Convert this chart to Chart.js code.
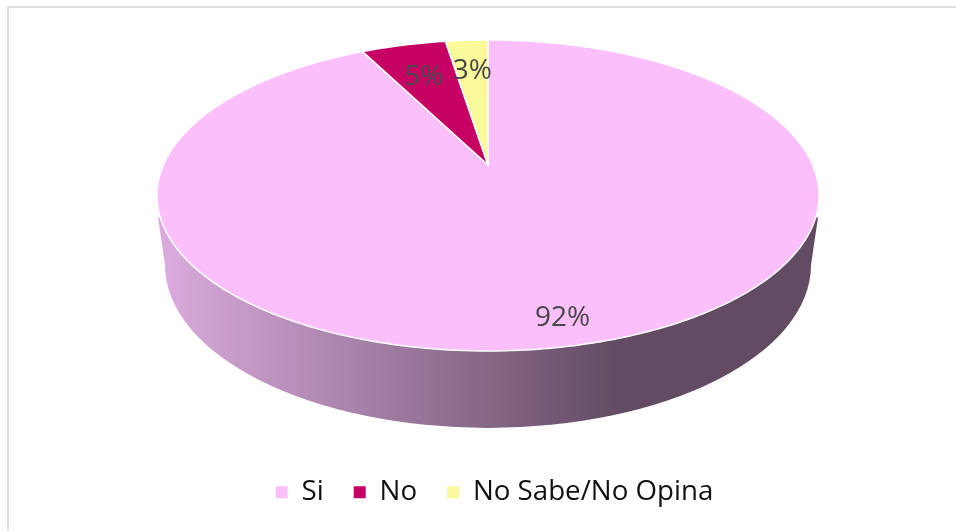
<!DOCTYPE html>
<html>
<head>
<meta charset="utf-8">
<script src="https://cdn.jsdelivr.net/npm/chart.js@4"></script>
<style>
html,body{margin:0;padding:0;background:#fff;width:956px;height:531px;overflow:hidden}
#wrap{position:relative;width:956px;height:531px}
#frame{position:absolute;left:7px;top:6px;right:0;bottom:0;border-left:2px solid #dfdfdf;border-top:2px solid #dfdfdf}
canvas{position:absolute;left:0;top:0}
</style>
</head>
<body>
<div id="wrap"><div id="frame"></div><canvas id="c" width="956" height="531"></canvas></div>
<script>
const categories = ["Si", "No", "No Sabe/No Opina"];
const values = [92.5, 5, 2.5];
const valueLabels = ["92%", "5%", "3%"];
const colors = ["#FBBFFC", "#C70063", "#FBFA9A"];

const FONT = '"Open Sans", "Noto Sans", sans-serif';
const view = {
  apexX: 488, apexY: 165,      // where the pie centre lands after projection
  scaleX: 0.9807, scaleY: 0.4517, persp: -0.196,
  labelRadius: [0.875, 0.70, 0.70], labelShift: [[-5, 0], [-2, 0], [0, -2]], labelSize: 28
};
const wall = {
  topY: 217.5, topHalf: 330, bottomY: 265, bottomRx: 323, bottomRy: 163,
  stops: [[160, "#DBABDD"], [620, "#624B63"], [817, "#624B63"]]
};

function project(arc, r, angle) {
  const R = arc.outerRadius;
  const u = r * Math.cos(angle), v = r * Math.sin(angle);
  const d = 1 + view.persp * v;
  return [view.apexX + R * view.scaleX * u / d, view.apexY + R * view.scaleY * v / d];
}

const pie3d = {
  id: "pie3d",
  beforeDatasetsDraw(chart) {
    const ctx = chart.ctx, arcs = chart.getDatasetMeta(0).data, cx = view.apexX;
    // side wall
    const g = ctx.createLinearGradient(wall.stops[0][0], 0, wall.stops[wall.stops.length - 1][0], 0);
    const x0 = wall.stops[0][0], span = wall.stops[wall.stops.length - 1][0] - x0;
    wall.stops.forEach(s => g.addColorStop((s[0] - x0) / span, s[1]));
    ctx.save();
    ctx.fillStyle = g;
    ctx.beginPath();
    ctx.moveTo(cx - wall.topHalf, wall.topY);
    ctx.lineTo(cx - wall.bottomRx, wall.bottomY);
    ctx.ellipse(cx, wall.bottomY, wall.bottomRx, wall.bottomRy, 0, Math.PI, 0, true);
    ctx.lineTo(cx + wall.topHalf, wall.topY);
    ctx.lineTo(cx, wall.topY - 40);
    ctx.closePath();
    ctx.fill();
    // slices: the library's arc angles, seen through the perspective
    arcs.forEach((arc, i) => {
      const o = arc.getProps(["startAngle", "endAngle"], true);
      ctx.beginPath();
      ctx.moveTo(...project(arc, 0, 0));
      const n = Math.ceil((o.endAngle - o.startAngle) / 0.01);
      for (let k = 0; k <= n; k++) {
        ctx.lineTo(...project(arc, 1, o.startAngle + (o.endAngle - o.startAngle) * k / n));
      }
      ctx.closePath();
      ctx.fillStyle = colors[i];
      ctx.fill();
      ctx.strokeStyle = "#ffffff";
      ctx.lineWidth = 1.5;
      ctx.lineJoin = "round";
      ctx.stroke();
    });
    // value labels
    ctx.fillStyle = "#484848";
    ctx.font = view.labelSize + "px " + FONT;
    ctx.textAlign = "center";
    ctx.textBaseline = "middle";
    arcs.forEach((arc, i) => {
      const o = arc.getProps(["startAngle", "endAngle"], true);
      const p = project(arc, view.labelRadius[i], (o.startAngle + o.endAngle) / 2);
      ctx.fillText(valueLabels[i], p[0] + view.labelShift[i][0], p[1] + view.labelShift[i][1]);
    });
    ctx.restore();
    return false;
  }
};

new Chart(document.getElementById("c"), {
  type: "pie",
  data: {
    labels: categories,
    datasets: [{ data: values, backgroundColor: colors, borderColor: "#fff", borderWidth: 1.5, radius: 331 }]
  },
  options: {
    responsive: false,
    animation: false,
    layout: { padding: { left: 33, bottom: 15 } },
    plugins: {
      tooltip: { enabled: false },
      legend: {
        position: "bottom",
        labels: {
          boxWidth: 12, boxHeight: 12, padding: 30, color: "#111",
          font: { family: FONT, size: 27.7 },
          generateLabels(chart) {
            return Chart.overrides.pie.plugins.legend.labels.generateLabels(chart)
              .map(item => Object.assign(item, { lineWidth: 0 }));
          }
        }
      }
    }
  },
  plugins: [pie3d]
});
</script>
</body>
</html>
